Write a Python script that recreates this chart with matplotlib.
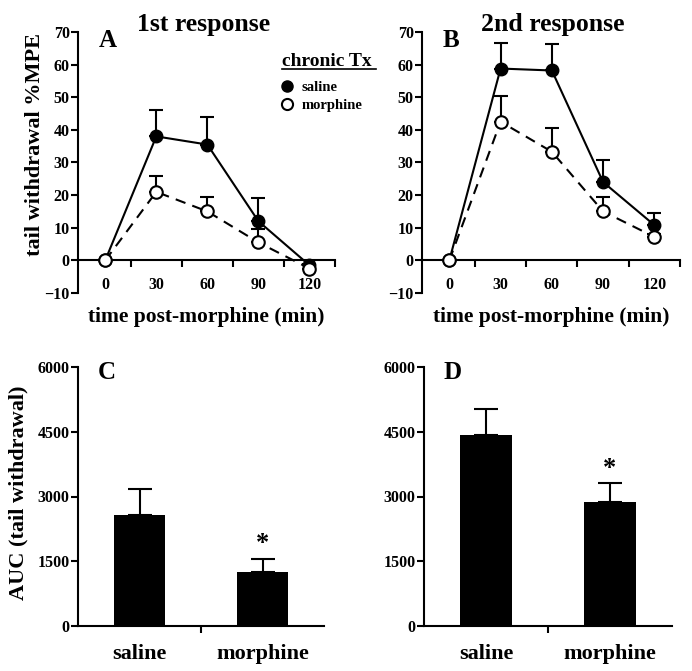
import numpy as np
import matplotlib
matplotlib.use('Agg')
import matplotlib.pyplot as plt
from matplotlib.lines import Line2D

# time course data (tail withdrawal %MPE)
times = [0, 30, 60, 90, 120]
sal_1st = [0, 38, 35.5, 12, -1.5]
sal_1st_err = [0, 8, 8.5, 7, 0.5]
mor_1st = [0, 21, 15, 5.5, -2.5]
mor_1st_err = [0, 5, 4.5, 4, 0]
sal_2nd = [0, 58.8, 58.2, 24, 10.8]
sal_2nd_err = [0, 7.7, 8.1, 6.7, 3.7]
mor_2nd = [0, 42.5, 33.3, 15, 7.2]
mor_2nd_err = [0, 8, 7.2, 4.3, 0.8]

# AUC data
groups = ['saline', 'morphine']
auc_1st = [2575, 1250]
auc_1st_err = [590, 310]
auc_2nd = [4415, 2870]
auc_2nd_err = [620, 440]

plt.rcParams['font.family'] = ['Liberation Serif', 'DejaVu Serif']
plt.rcParams['font.weight'] = 'bold'

fig = plt.figure(figsize=(6.92, 6.71), dpi=100)
W, H = 692, 671


def box(x0, x1, ytop, ybot):
    return [x0 / W, 1 - ybot / H, (x1 - x0) / W, (ybot - ytop) / H]


def style_axes(ax):
    for s in ['top', 'right']:
        ax.spines[s].set_visible(False)
    ax.spines['left'].set_linewidth(1.5)
    ax.spines['bottom'].set_linewidth(1.5)
    ax.spines['bottom'].set_position(('data', 0))
    ax.tick_params(axis='y', direction='out', length=5, width=1.5, labelsize=11.5, pad=1)


def time_panel(ax, sal, sal_err, mor, mor_err, letter):
    style_axes(ax)
    ax.errorbar(times, mor, yerr=[np.zeros(len(mor_err)), mor_err], color='black', lw=1.5,
                ls=(0, (5, 3.5)), marker='o', ms=9, mfc='white', mec='black', mew=1.5,
                capsize=5, capthick=1.5, elinewidth=1.5, zorder=3)
    ax.errorbar(times, sal, yerr=[np.zeros(len(sal_err)), sal_err], color='black', lw=1.5,
                marker='o', ms=9, mfc='black', mec='black', capsize=5, capthick=1.5,
                elinewidth=1.5, zorder=2)
    ax.set_xlim(-16, 135)
    ax.set_ylim(-10, 70)
    ax.set_yticks(range(-10, 71, 10))
    ax.set_xticks([15, 45, 75, 105, 135])
    ax.set_xticklabels([])
    ax.set_xticks(times, minor=True)
    ax.set_xticklabels([str(t) for t in times], minor=True)
    ax.tick_params(axis='x', which='major', direction='out', length=5, width=1.5)
    ax.tick_params(axis='x', which='minor', length=0, labelsize=11.5, pad=12)
    ax.set_xlabel('time post-morphine (min)', fontsize=15.5, fontweight='bold', labelpad=10)
    ax.text(0.08, 1.01, letter, transform=ax.transAxes, fontsize=18, fontweight='bold',
            va='top', ha='left')


def auc_panel(ax, vals, errs, letter):
    style_axes(ax)
    x = np.arange(len(groups))
    ax.bar(x, vals, width=0.42, color='black', zorder=2)
    ax.errorbar(x, vals, yerr=[np.zeros(len(errs)), errs], fmt='none', ecolor='black',
                elinewidth=1.5, capsize=8.5, capthick=1.5, zorder=1)
    ax.set_xlim(-0.5, 1.5)
    ax.set_ylim(0, 6000)
    ax.set_yticks(range(0, 6001, 1500))
    ax.set_xticks([0.5])
    ax.set_xticklabels([])
    ax.set_xticks(x, minor=True)
    ax.set_xticklabels(groups, minor=True)
    ax.tick_params(axis='x', which='major', direction='out', length=5, width=1.5)
    ax.tick_params(axis='x', which='minor', length=0, labelsize=16, pad=13)
    ax.text(1, vals[1] + errs[1] + 80, '*', ha='center', va='bottom', fontsize=19,
            fontweight='bold')
    ax.text(0.08, 1.025, letter, transform=ax.transAxes, fontsize=18, fontweight='bold',
            va='top', ha='left')


axA = fig.add_axes(box(78, 335, 32, 293))
time_panel(axA, sal_1st, sal_1st_err, mor_1st, mor_1st_err, 'A')
axA.set_ylabel('tail withdrawal %MPE', fontsize=16, fontweight='bold')
axA.yaxis.set_label_coords(-0.128, 0.57)

axB = fig.add_axes(box(422, 680, 32, 293))
time_panel(axB, sal_2nd, sal_2nd_err, mor_2nd, mor_2nd_err, 'B')

axC = fig.add_axes(box(78, 324, 367, 626))
auc_panel(axC, auc_1st, auc_1st_err, 'C')
axC.set_ylabel('AUC (tail withdrawal)', fontsize=16, fontweight='bold')
axC.yaxis.set_label_coords(-0.2, 0.515)

axD = fig.add_axes(box(424, 672, 367, 626))
auc_panel(axD, auc_2nd, auc_2nd_err, 'D')

# panel titles
fig.text(204 / W, 1 - 31 / H, '1st response', fontsize=18.5, fontweight='bold',
         ha='center', va='baseline')
fig.text(553 / W, 1 - 31 / H, '2nd response', fontsize=18.5, fontweight='bold',
         ha='center', va='baseline')

# legend
fig.text(282 / W, 1 - 66 / H, 'chronic Tx', fontsize=14, fontweight='bold', ha='left',
         va='baseline')
fig.add_artist(Line2D([282 / W, 376 / W], [1 - 69 / H, 1 - 69 / H], color='black', lw=1.2))
handles = [Line2D([], [], ls='none', marker='o', ms=8, mfc='black', mec='black'),
           Line2D([], [], ls='none', marker='o', ms=8, mfc='white', mec='black', mew=1.5)]
fig.legend(handles, ['saline', 'morphine'], loc='upper left',
           bbox_to_anchor=(265 / W, 1 - 68 / H), frameon=False, handletextpad=0.4,
           labelspacing=0.3, handlelength=1.2, prop={'size': 10.5, 'weight': 'bold'})

fig.savefig('out.png', dpi=100)
